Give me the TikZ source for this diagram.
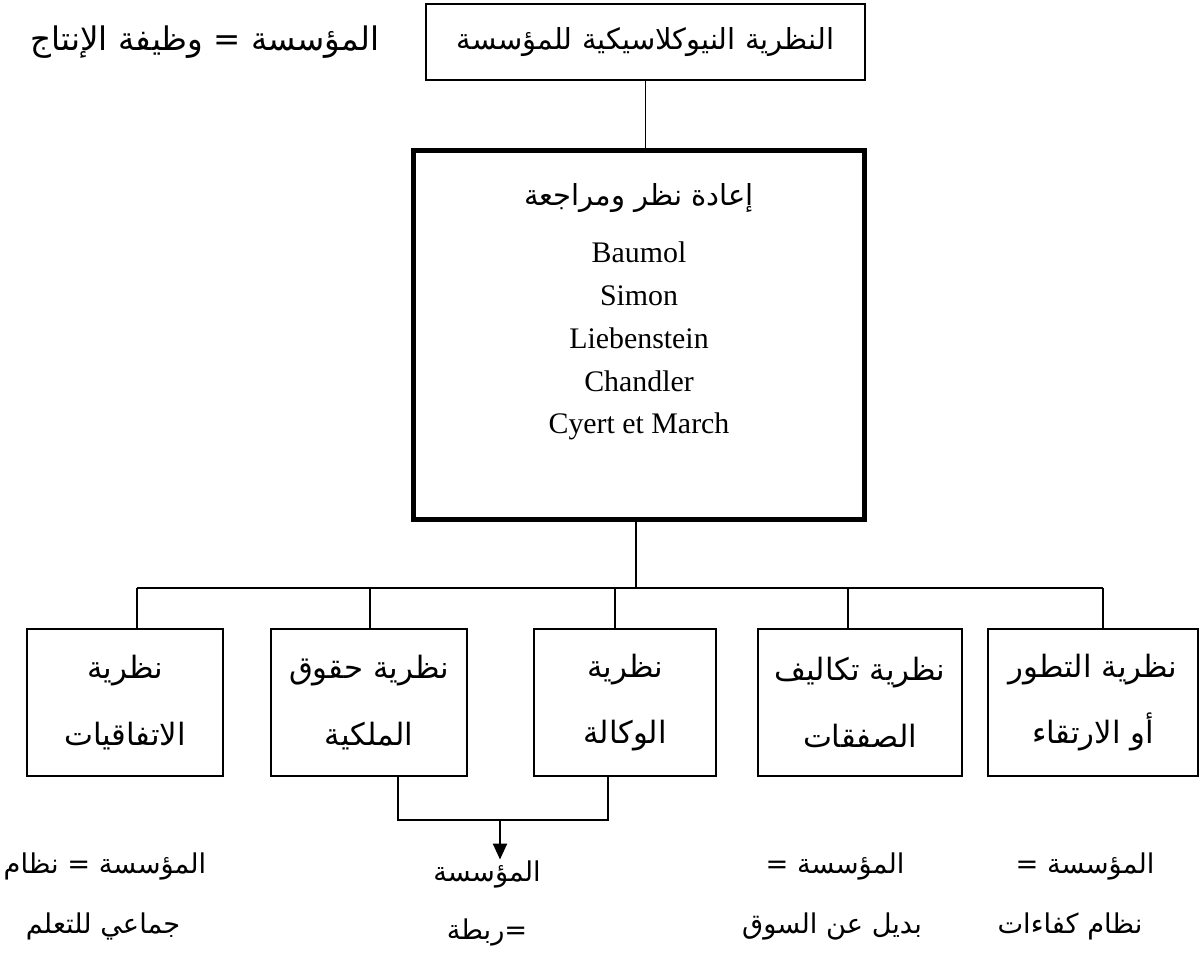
\documentclass[tikz,border=0pt]{standalone}
\usepackage{fontspec}
\setmainfont{Liberation Serif}
\newfontfamily\arabicfont[Script=Arabic]{DejaVu Sans}
\TeXXeTstate=1
\usetikzlibrary{arrows.meta}
\newcommand{\artext}[1]{\beginR #1\endR}

\begin{document}
\begin{tikzpicture}[x=0.02cm,y=-0.02cm,line width=1pt,
    box/.style={draw,inner sep=0pt,outer sep=0pt,align=center,font=\arabicfont\fontsize{17.5}{38}\selectfont},
    note/.style={inner sep=0pt,font=\arabicfont\fontsize{15.5}{18}\selectfont},
    names/.style={align=center,inner sep=0pt,font=\fontsize{17}{24.4}\selectfont}]
    \useasboundingbox (0,0) rectangle (1200,961);
    \node[box,font=\arabicfont\fontsize{16.5}{20}\selectfont,minimum width=8.78cm,minimum height=1.52cm] (neo) at (645.5,42) {\artext{النظرية النيوكلاسيكية للمؤسسة}};
    \node[note,font=\arabicfont\fontsize{18.5}{22}\selectfont] (prod) at (205,42) {\artext{المؤسسة = وظيفة الإنتاج}};
    \node[draw,line width=2.8pt,inner sep=0pt,minimum width=9.02cm,minimum height=7.38cm] (rev) at (639,335) {};
    \node[note,font=\arabicfont\fontsize{16.5}{20}\selectfont] (revhead) at (639,198) {\artext{إعادة نظر ومراجعة}};
    \node[names] (authors) at (639,341) {Baumol\\Simon\\Liebenstein\\Chandler\\Cyert et March};
    \foreach \n/\x/\w/\a/\b in {1/125/3.92/نظرية/الاتفاقيات,2/369/3.92/نظرية حقوق/الملكية,3/625/3.64/نظرية/الوكالة,4/860/4.08/نظرية تكاليف/الصفقات,5/1093/4.2/نظرية التطور/أو الارتقاء}
        \node[box,minimum width=\w cm,minimum height=2.94cm] (b\n) at (\x,702.5) {\artext{\a}\\\artext{\b}};
    \draw (neo.south) -- (neo.south |- rev.north);
    \coordinate (hub) at (636,588);
    \draw (rev.south -| hub) -- (hub);
    \foreach \n/\x in {1/137,2/370,3/615,4/848,5/1103}
        \coordinate (d\n) at (\x,588);
    \draw (d1) -- (d5);
    \foreach \n in {1,...,5}
        \draw (d\n) -- (d\n |- b\n.north);
    \node[note] (firm) at (487,874) {\artext{المؤسسة}};
    \node[note] (tie) at (487,932) {\artext{=ربطة}};
    \coordinate (l2) at (398,820);
    \coordinate (l3) at (608,820);
    \coordinate (j) at (500,820);
    \draw (b2.south -| l2) -- (l2) -- (l3) -- (b3.south -| l3);
    \draw[-{Triangle[length=9pt,width=8pt]}] (j) -- (j |- firm.north);
    \node[note] (learn1) at (105,866) {\artext{المؤسسة = نظام}};
    \node[note] (learn2) at (103,926) {\artext{جماعي للتعلم}};
    \node[note] (market1) at (835,866) {\artext{المؤسسة =}};
    \node[note] (market2) at (832,926) {\artext{بديل عن السوق}};
    \node[note] (skill1) at (1085,866) {\artext{المؤسسة =}};
    \node[note] (skill2) at (1070,926) {\artext{نظام كفاءات}};
\end{tikzpicture}
\end{document}
